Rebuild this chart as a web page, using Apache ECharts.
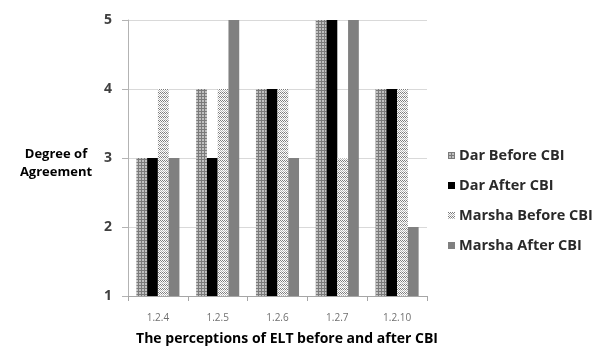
<!DOCTYPE html>
<html><head><meta charset="utf-8">
<script src="https://cdn.jsdelivr.net/npm/echarts@6/dist/echarts.min.js"></script>
<style>html,body{margin:0;padding:0;background:#fff}#c{width:602px;height:356px}</style>
</head><body><div id="c"></div>
<script>
var categories = ['1.2.4', '1.2.5', '1.2.6', '1.2.7', '1.2.10'];
var seriesNames = ['Dar Before CBI', 'Dar After CBI', 'Marsha Before CBI', 'Marsha After CBI'];
var darBefore = [3, 4, 4, 5, 4];
var darAfter = [3, 3, 4, 5, 4];
var marshaBefore = [4, 4, 4, 3, 4];
var marshaAfter = [3, 5, 3, 5, 2];
var yTicks = [1, 2, 3, 4, 5];

function gridPattern() {
  var c = document.createElement('canvas'); c.width = 3; c.height = 3;
  var g = c.getContext('2d');
  g.fillStyle = '#c0c0c0'; g.fillRect(0, 0, 3, 3);
  g.fillStyle = '#7a7a7a'; g.fillRect(0, 0, 3, 1); g.fillRect(0, 0, 1, 3);
  return {image: c, repeat: 'repeat'};
}
function checkPattern() {
  var c = document.createElement('canvas'); c.width = 4; c.height = 4;
  var g = c.getContext('2d');
  g.fillStyle = '#ffffff'; g.fillRect(0, 0, 4, 4);
  g.fillStyle = '#7c7c7c';
  g.fillRect(0, 0, 1, 1); g.fillRect(2, 0, 1, 1);
  g.fillRect(1, 1, 1, 1); g.fillRect(3, 1, 1, 1);
  g.fillStyle = '#b8b8b8';
  g.fillRect(0, 2, 1, 1); g.fillRect(2, 2, 1, 1);
  g.fillRect(1, 3, 1, 1); g.fillRect(3, 3, 1, 1);
  return {image: c, repeat: 'repeat'};
}
var fills = [gridPattern(), '#000000', checkPattern(), '#808080'];
var values = [darBefore, darAfter, marshaBefore, marshaAfter];

var chart = echarts.init(document.getElementById('c'), null, {renderer: 'canvas'});
var font = '"Open Sans", Lato, sans-serif';
chart.setOption({
  animation: false,
  grid: {left: 128, right: 175, top: 20, bottom: 60},
  legend: {
    orient: 'vertical', left: 443, top: 143, itemWidth: 7, itemHeight: 7, itemGap: 15,
    icon: 'rect',
    textStyle: {fontFamily: font, fontSize: 14.5, color: '#2a2a2a', fontWeight: 'bold', padding: [0, 0, 0, -1]},
    data: seriesNames
  },
  graphic: [{
    type: 'text', x: 56, y: 145,
    style: {text: 'Degree of\nAgreement', fontFamily: font, fontSize: 13, fontWeight: 'bold', fill: '#000', align: 'center', textAlign: 'center', lineHeight: 18}
  }, {
    type: 'text', x: 287, y: 332,
    style: {text: 'The perceptions of ELT before and after CBI', fontFamily: font, fontSize: 14, fontWeight: 'bold', fill: '#000', align: 'center', textAlign: 'center'}
  }],
  xAxis: {
    type: 'category', data: categories,
    axisLine: {lineStyle: {color: '#a6a6a6'}},
    axisTick: {show: true, length: 5, lineStyle: {color: '#a6a6a6'}},
    axisLabel: {fontFamily: font, fontSize: 10, color: '#707070', margin: 17}
  },
  yAxis: {
    type: 'value', min: 1, max: 5, interval: 1,
    axisLine: {show: true, lineStyle: {color: '#b3b3b3'}},
    axisTick: {show: true, length: 6, lineStyle: {color: '#b3b3b3'}},
    axisLabel: {fontFamily: font, fontSize: 14, color: '#404040', fontWeight: 'bold', margin: 16},
    splitLine: {lineStyle: {color: '#d9d9d9'}}
  },
  series: seriesNames.map(function (n, i) {
    return {
      name: n, type: 'bar', data: values[i], barGap: '0%', barCategoryGap: '28%',
      itemStyle: {color: fills[i]}
    };
  })
});
</script></body></html>
